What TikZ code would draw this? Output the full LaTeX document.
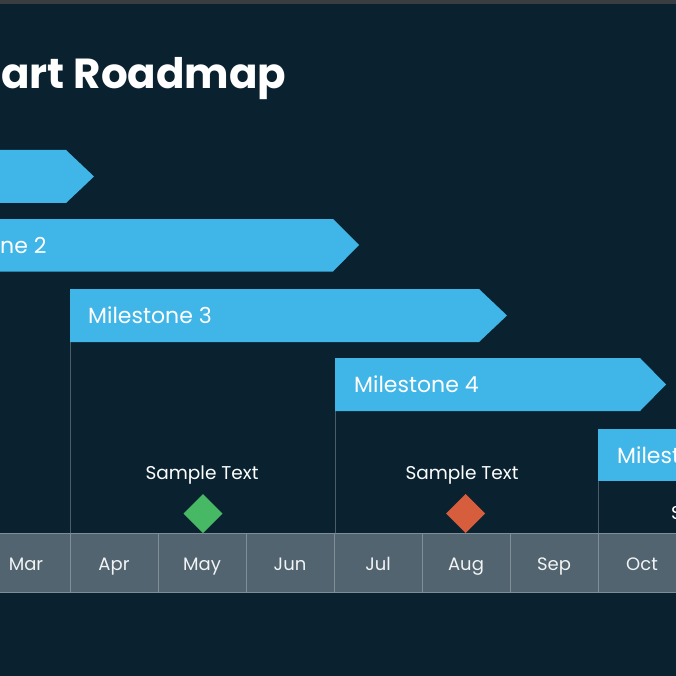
\documentclass[tikz,border=0pt]{standalone}
\usepackage{fontspec}
\setmainfont{Poppins}
\usetikzlibrary{positioning}

\definecolor{bgnavy}{HTML}{0A2230}
\definecolor{stripgray}{HTML}{3B3E41}
\definecolor{barblue}{HTML}{40B5E7}
\definecolor{cellgray}{HTML}{526470}
\definecolor{cellline}{HTML}{7E8D96}
\definecolor{guidegray}{HTML}{4C5C68}
\definecolor{msgreen}{HTML}{47B863}
\definecolor{msorange}{HTML}{D65E3D}

\tikzset{
  bartext/.style={anchor=base west, text=white, inner sep=0pt, font=\fontsize{22}{25}\selectfont},
  smalltext/.style={anchor=base, text=white, inner sep=0pt, font=\fontsize{18.5}{21}\selectfont},
  month/.style={anchor=base, text=white!92!cellgray, inner sep=0pt, font=\fontsize{18}{21}\selectfont},
  guide/.style={guidegray, line width=0.8pt},
}

\begin{document}
\begin{tikzpicture}[x=1pt,y=-1pt]
      \fill [bgnavy] (0,0) rectangle (676,676);
      \useasboundingbox (0,0) rectangle (676,676);
      \fill [stripgray] (0,0) rectangle (676,4.5);
      % title
      \node [anchor=base west, text=white, inner sep=0pt, font=\fontsize{42}{48}\selectfont\bfseries] (title) at (1,89) {art Roadmap};
      % guide lines
      \draw [guide] (70.5,342) -- (70.5,533);
      \draw [guide] (335,411) -- (335,533);
      \draw [guide] (598.5,481) -- (598.5,533);
      % bars
      \fill [barblue] (-10,150) -- (66,150) -- (94,176.5) -- (66,203) -- (-10,203) -- cycle;
      \fill [barblue] (-10,219) -- (333,219) -- (359,245) -- (333,271.5) -- (-10,271.5) -- cycle;
      \fill [barblue] (70,289) -- (479,289) -- (507,315.5) -- (479,342) -- (70,342) -- cycle;
      \fill [barblue] (335,358) -- (640,358) -- (666,384.5) -- (640,411) -- (335,411) -- cycle;
      \fill [barblue] (598,428.5) -- (686,428.5) -- (686,481) -- (598,481) -- cycle;
      \node [bartext] (ms2) at (0,253) {ne 2};
      \node [bartext] (ms3) at (88,323.5) {Milestone 3};
      \node [bartext] (ms4) at (354,392.7) {Milestone 4};
      \node [bartext] (ms5) at (617,463) {Milest};
      % timeline
      \fill [cellgray] (0,533) rectangle (676,592);
      \draw [cellline, line width=0.8pt] (0,533) -- (676,533);
      \draw [cellline, line width=0.8pt] (0,592) -- (676,592);
      \foreach \x in {70,158,...,598}
        \draw [cellline, line width=0.8pt] (\x+0.5,533) -- (\x+0.5,592);
      \foreach \m [count=\i from 0] in {Mar,Apr,May,Jun,Jul,Aug,Sep,Oct}
        \node [month] (\m) at (26+88*\i,570) {\m};
      % milestones
      \node [smalltext] (note1) at (202,479.3) {Sample Text};
      \node [smalltext] (note2) at (462,479.3) {Sample Text};
      \node [smalltext, anchor=base west] (note3) at (671,519) {S};
      \fill [msgreen] (203,494) -- (222.5,513.5) -- (203,533) -- (183.5,513.5) -- cycle;
      \fill [msorange] (465.5,494) -- (485,513.5) -- (465.5,533) -- (446,513.5) -- cycle;
\end{tikzpicture}
\end{document}
